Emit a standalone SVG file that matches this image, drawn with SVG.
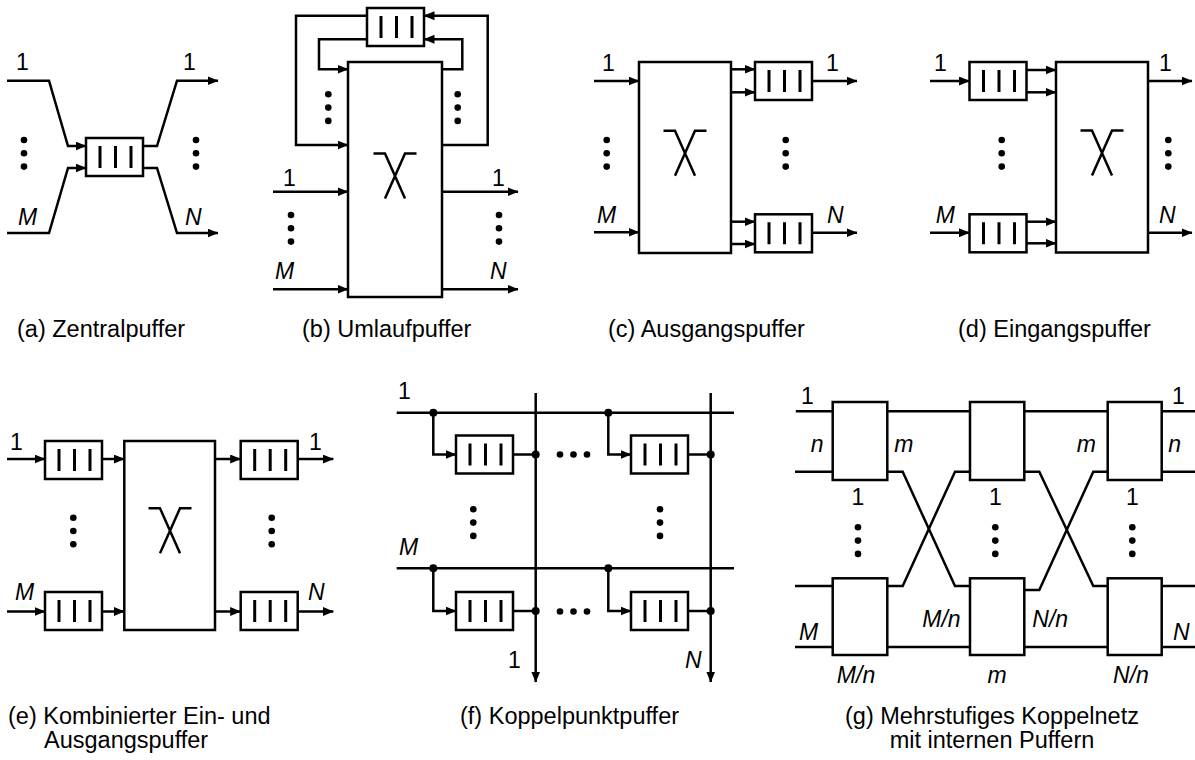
<svg xmlns="http://www.w3.org/2000/svg" xmlns:xlink="http://www.w3.org/1999/xlink" width="1195" height="760" viewBox="0 0 1195 760">
<style>
.ln{fill:none;stroke:#000;stroke-width:2.5;stroke-linejoin:miter}
.arr{marker-end:url(#arr)}
.box{fill:#fff;stroke:#000;stroke-width:2.5}
.lbl{font-family:"Liberation Sans",Arial,sans-serif;font-size:23px;fill:#000}
.it{font-style:italic}
.cap{font-family:"Liberation Sans",Arial,sans-serif;font-size:23.5px;fill:#000}
.jd{fill:#000}
</style>
<defs>
<marker id="arr" markerWidth="11" markerHeight="9" refX="10.5" refY="4.5" orient="auto" markerUnits="userSpaceOnUse"><path d="M0,0 L11,4.5 L0,9 z" fill="#000"/></marker>
<g id="buf"><rect x="0" y="0" width="57" height="38" fill="#fff" stroke="#000" stroke-width="2.5"/><path d="M14,8 V30 M29.5,8 V30 M45,8 V30" stroke="#000" stroke-width="3" fill="none"/></g>
<path id="xsym" d="M-21.5,0 H-10 L10,45 M21.5,0 H10 L-10,45" fill="none" stroke="#000" stroke-width="2.5"/>
<g id="vdots" fill="#000"><circle cx="0" cy="0" r="3.3"/><circle cx="0" cy="13.3" r="3.3"/><circle cx="0" cy="26.6" r="3.3"/></g>
<g id="hdots" fill="#000"><circle cx="0" cy="0" r="3.3"/><circle cx="13.5" cy="0" r="3.3"/><circle cx="27" cy="0" r="3.3"/></g>
</defs>
<rect x="0" y="0" width="1195" height="760" fill="#fff"/>

<g id="connectors">
<!-- (a) -->
<path class="ln arr" d="M7,80.7 H49 L68,146 H86"/>
<path class="ln arr" d="M7,233 H49 L68,168 H86"/>
<path class="ln arr" d="M143,146 H157 L177,80.7 H218"/>
<path class="ln arr" d="M143,168 H157 L177,233 H218"/>
<!-- (b) -->
<path class="ln arr" d="M442,145 H487.7 V15.7 H424"/>
<path class="ln arr" d="M367,15.7 H296 V145 H348"/>
<path class="ln arr" d="M442,69.3 H462.3 V39.3 H424"/>
<path class="ln arr" d="M367,39.3 H319 V69.3 H348"/>
<path class="ln arr" d="M273,191.7 H348"/>
<path class="ln arr" d="M273,289.3 H348"/>
<path class="ln arr" d="M442,191.7 H518"/>
<path class="ln arr" d="M442,289.3 H518"/>
<!-- (c) -->
<path class="ln arr" d="M594,81 H639"/>
<path class="ln arr" d="M594,232.3 H639"/>
<path class="ln arr" d="M731,69.3 H755"/>
<path class="ln arr" d="M731,92.3 H755"/>
<path class="ln arr" d="M731,221.7 H755"/>
<path class="ln arr" d="M731,244 H755"/>
<path class="ln arr" d="M812,81 H857"/>
<path class="ln arr" d="M812,232.7 H857"/>
<!-- (d) -->
<path class="ln arr" d="M930,81 H969.5"/>
<path class="ln arr" d="M930,232.7 H969.5"/>
<path class="ln arr" d="M1026.5,70 H1056"/>
<path class="ln arr" d="M1026.5,92.3 H1056"/>
<path class="ln arr" d="M1026.5,221.7 H1056"/>
<path class="ln arr" d="M1026.5,243.3 H1056"/>
<path class="ln arr" d="M1148,81 H1192"/>
<path class="ln arr" d="M1148,232.7 H1192"/>
<!-- (e) -->
<path class="ln arr" d="M7,459 H45"/>
<path class="ln arr" d="M7,611.5 H45"/>
<path class="ln arr" d="M102,459 H124.3"/>
<path class="ln arr" d="M102,611.5 H124.3"/>
<path class="ln arr" d="M215,459 H240.7"/>
<path class="ln arr" d="M215,611.5 H240.7"/>
<path class="ln arr" d="M297.7,459 H333.3"/>
<path class="ln arr" d="M297.7,611.5 H333.3"/>
<!-- (f) -->
<path class="ln" d="M396.7,412.7 H734"/>
<path class="ln" d="M396.7,568.3 H734"/>
<path class="ln arr" d="M535.7,393 V682"/>
<path class="ln arr" d="M710.7,393 V682"/>
<path class="ln arr" d="M433.3,412.7 V454.5 H456"/>
<path class="ln arr" d="M608.3,412.7 V454.5 H631"/>
<path class="ln arr" d="M433.3,568.3 V611 H456"/>
<path class="ln arr" d="M608.3,568.3 V611 H631"/>
<path class="ln" d="M513,454.5 H535.7 M688,454.5 H710.7 M513,611 H535.7 M688,611 H710.7"/>
<!-- (g) -->
<path class="ln" d="M795.8,411.3 H1195"/>
<path class="ln" d="M795,647 H1195"/>
<path class="ln" d="M795,471.7 H833 M1161.7,471.7 H1195"/>
<path class="ln" d="M795,586 H833 M1161.7,586 H1195"/>
<path class="ln" d="M887.3,471.7 H902.7 L955,586 H970"/>
<path class="ln" d="M887.3,586 H902.7 L955,471.7 H970"/>
<path class="ln" d="M1024.3,471.7 H1039.3 L1093.3,586 H1107.7"/>
<path class="ln" d="M1024.3,590 H1039.3 L1093.3,471.7 H1107.7"/>
</g>

<!-- (a) nodes -->
<g id="a-buffer"><use xlink:href="#buf" transform="translate(86,138)"/></g>
<!-- (b) nodes -->
<g id="b-switch"><rect class="box" x="348" y="62" width="94" height="235"/><use xlink:href="#xsym" transform="translate(395,153.5)"/></g>
<g id="b-buffer"><use xlink:href="#buf" transform="translate(367,8)"/></g>
<!-- (c) nodes -->
<g id="c-switch"><rect class="box" x="639" y="62" width="92" height="191"/><use xlink:href="#xsym" transform="translate(685,130.7)"/></g>
<g id="c-buffer-1"><use xlink:href="#buf" transform="translate(755,62)"/></g>
<g id="c-buffer-N"><use xlink:href="#buf" transform="translate(755,214.3)"/></g>
<!-- (d) nodes -->
<g id="d-buffer-1"><use xlink:href="#buf" transform="translate(969.5,62)"/></g>
<g id="d-buffer-M"><use xlink:href="#buf" transform="translate(969.5,214.3)"/></g>
<g id="d-switch"><rect class="box" x="1056" y="62" width="92" height="190.5"/><use xlink:href="#xsym" transform="translate(1102,130.5)"/></g>
<!-- (e) nodes -->
<g id="e-in-buffer-1"><use xlink:href="#buf" transform="translate(45,441)"/></g>
<g id="e-in-buffer-M"><use xlink:href="#buf" transform="translate(45,592)"/></g>
<g id="e-switch"><rect class="box" x="124.3" y="441" width="90.7" height="189"/><use xlink:href="#xsym" transform="translate(170,508.3)"/></g>
<g id="e-out-buffer-1"><use xlink:href="#buf" transform="translate(240.7,441)"/></g>
<g id="e-out-buffer-N"><use xlink:href="#buf" transform="translate(240.7,592)"/></g>
<!-- (f) nodes -->
<g id="f-buffer-11"><use xlink:href="#buf" transform="translate(456,435.5)"/></g>
<g id="f-buffer-1N"><use xlink:href="#buf" transform="translate(631,435.5)"/></g>
<g id="f-buffer-M1"><use xlink:href="#buf" transform="translate(456,592)"/></g>
<g id="f-buffer-MN"><use xlink:href="#buf" transform="translate(631,592)"/></g>
<g id="f-junctions">
<circle class="jd" cx="433.3" cy="412.7" r="4"/><circle class="jd" cx="608.3" cy="412.7" r="4"/>
<circle class="jd" cx="433.3" cy="568.3" r="4"/><circle class="jd" cx="608.3" cy="568.3" r="4"/>
<circle class="jd" cx="535.7" cy="454.5" r="4"/><circle class="jd" cx="710.7" cy="454.5" r="4"/>
<circle class="jd" cx="535.7" cy="611" r="4"/><circle class="jd" cx="710.7" cy="611" r="4"/>
</g>
<!-- (g) nodes -->
<g id="g-s1-1"><rect class="box" x="832.7" y="402" width="54.6" height="78"/></g>
<g id="g-s2-1"><rect class="box" x="970" y="402" width="54.3" height="78"/></g>
<g id="g-s3-1"><rect class="box" x="1107.7" y="402" width="54" height="78"/></g>
<g id="g-s1-Mn"><rect class="box" x="832.7" y="578.3" width="54.6" height="76.7"/></g>
<g id="g-s2-m"><rect class="box" x="970" y="578.3" width="54.3" height="76.7"/></g>
<g id="g-s3-Nn"><rect class="box" x="1107.7" y="578.3" width="54" height="76.7"/></g>

<g id="ellipses">
<use xlink:href="#vdots" transform="translate(24,140)"/>
<use xlink:href="#vdots" transform="translate(196,140)"/>
<use xlink:href="#vdots" transform="translate(328.3,94.3)"/>
<use xlink:href="#vdots" transform="translate(457.7,94.3)"/>
<use xlink:href="#vdots" transform="translate(291,215)"/>
<use xlink:href="#vdots" transform="translate(499,215)"/>
<use xlink:href="#vdots" transform="translate(606.7,140)"/>
<use xlink:href="#vdots" transform="translate(785.7,140)"/>
<use xlink:href="#vdots" transform="translate(1001.7,140)"/>
<use xlink:href="#vdots" transform="translate(1168.3,140)"/>
<use xlink:href="#vdots" transform="translate(73.3,517.7)"/>
<use xlink:href="#vdots" transform="translate(271.7,517.7)"/>
<use xlink:href="#vdots" transform="translate(473.3,509.3)"/>
<use xlink:href="#vdots" transform="translate(660,509.3)"/>
<use xlink:href="#hdots" transform="translate(560,454.5)"/>
<use xlink:href="#hdots" transform="translate(560,611.5)"/>
<use xlink:href="#vdots" transform="translate(858,527.3)"/>
<use xlink:href="#vdots" transform="translate(995.3,527.3)"/>
<use xlink:href="#vdots" transform="translate(1132.3,527.3)"/>
</g>

<g id="labels" class="lbl">
<!-- (a) -->
<text x="16" y="70">1</text>
<text x="183" y="70">1</text>
<text class="it" x="18" y="225">M</text>
<text class="it" x="185" y="225">N</text>
<!-- (b) -->
<text x="283" y="186">1</text>
<text x="492" y="186">1</text>
<text class="it" x="275" y="279">M</text>
<text class="it" x="490" y="279">N</text>
<!-- (c) -->
<text x="602" y="71">1</text>
<text x="826" y="71">1</text>
<text class="it" x="597" y="223">M</text>
<text class="it" x="827" y="223">N</text>
<!-- (d) -->
<text x="934" y="71">1</text>
<text x="1159" y="71">1</text>
<text class="it" x="935.7" y="223">M</text>
<text class="it" x="1159" y="223">N</text>
<!-- (e) -->
<text x="10" y="450">1</text>
<text x="309" y="450">1</text>
<text class="it" x="15" y="600">M</text>
<text class="it" x="308" y="600">N</text>
<!-- (f) -->
<text x="398" y="399">1</text>
<text class="it" x="399" y="555">M</text>
<text x="508" y="668">1</text>
<text class="it" x="685" y="668">N</text>
<!-- (g) -->
<text x="801" y="404">1</text>
<text x="1172" y="404">1</text>
<text class="it" x="810.7" y="451.7">n</text>
<text class="it" x="894.3" y="451.7">m</text>
<text class="it" x="1076.7" y="451.7">m</text>
<text class="it" x="1168.3" y="451.7">n</text>
<text x="858" y="505" text-anchor="middle">1</text>
<text x="995.3" y="505" text-anchor="middle">1</text>
<text x="1132.3" y="505" text-anchor="middle">1</text>
<text class="it" x="799" y="640">M</text>
<text class="it" x="922.3" y="627">M/n</text>
<text class="it" x="1032.3" y="627">N/n</text>
<text class="it" x="1173" y="640">N</text>
<text class="it" x="856" y="683" text-anchor="middle">M/n</text>
<text class="it" x="997" y="683" text-anchor="middle">m</text>
<text class="it" x="1131" y="683" text-anchor="middle">N/n</text>
</g>

<g id="captions" class="cap">
<text x="17" y="337">(a) Zentralpuffer</text>
<text x="302" y="337">(b) Umlaufpuffer</text>
<text x="608" y="337">(c) Ausgangspuffer</text>
<text x="958" y="337">(d) Eingangspuffer</text>
<text x="8" y="724">(e) Kombinierter Ein- und</text>
<text x="44" y="748">Ausgangspuffer</text>
<text x="460" y="724">(f) Koppelpunktpuffer</text>
<text x="992" y="724" text-anchor="middle">(g) Mehrstufiges Koppelnetz</text>
<text x="992" y="748" text-anchor="middle">mit internen Puffern</text>
</g>
</svg>
